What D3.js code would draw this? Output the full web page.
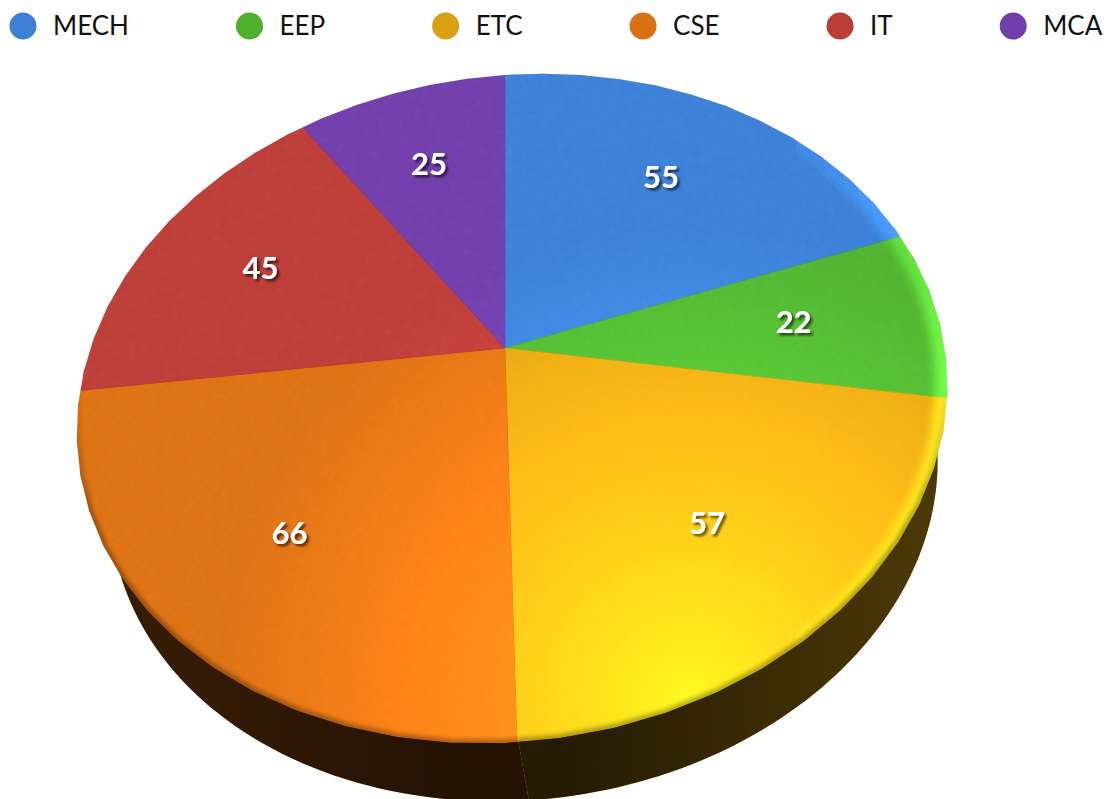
<!DOCTYPE html>
<html>
<head>
<meta charset="utf-8">
<script src="https://cdnjs.cloudflare.com/ajax/libs/d3/7.8.5/d3.min.js"></script>
<style>
  html, body { margin: 0; padding: 0; background: #fff; overflow: hidden; }
  text { font-family: Lato, sans-serif; }
</style>
</head>
<body>
<div id="chart"></div>
<script>
var categories = ["MECH", "EEP", "ETC", "CSE", "IT", "MCA"];
var values = [55, 22, 57, 66, 45, 25];
var colors = ["#3c7fd3", "#4fb030", "#d9a013", "#d97014", "#ba3d38", "#6f3ea8"];

var width = 1115, height = 799;

var svg = d3.select("#chart").append("svg")
  .attr("width", width)
  .attr("height", height)
  .style("display", "block");

var defs = svg.append("defs");

// tilted disc: unit circle (u right, v away from viewer) to screen
var project = function(r, angle) {
  var u = r * Math.sin(angle), v = r * Math.cos(angle);
  var w = 1 + 0.1826 * v - 0.016 * u;
  return [505 + 428 * u / w, 348 + (-322.9 * v - 24 * u) / w];
};

// the lower rim shrinks towards a vanishing point below the picture
var lower = function(p) {
  var m = 0.95;
  return [750 + m * (p[0] - 750), 1900 + m * (p[1] - 1900)];
};

var arcPoints = function(r, a0, a1) {
  return d3.range(0, 61).map(function(i) {
    return project(r, a0 + (a1 - a0) * i / 60);
  });
};

var line = d3.line();

var slices = d3.pie().sort(null)(values);

var mid = function(d) { return (d.startAngle + d.endAngle) / 2; };

var topPath = function(d) {
  return line([project(0, 0)].concat(arcPoints(1, d.startAngle, d.endAngle))) + "Z";
};

// starts a little inside the top face so no white shows along the rim
var sidePath = function(d) {
  var inner = arcPoints(0.98, d.startAngle, d.endAngle);
  var outer = arcPoints(1, d.startAngle, d.endAngle);
  return line(inner.concat(outer.reverse().map(lower))) + "Z";
};

var rimPath = line(arcPoints(1, 0, 2 * Math.PI)) + "Z";

// gradients and filters for the glossy look
defs.append("clipPath").attr("id", "disc").append("path").attr("d", rimPath);

var glow = defs.append("radialGradient").attr("id", "glow")
  .attr("gradientUnits", "userSpaceOnUse")
  .attr("cx", 690).attr("cy", 700).attr("r", 470);
glow.append("stop").attr("offset", 0).attr("stop-color", "#5c5c5c");
glow.append("stop").attr("offset", 0.55).attr("stop-color", "#2a2a2a");
glow.append("stop").attr("offset", 1).attr("stop-color", "#060606");

var edgeLight = defs.append("linearGradient").attr("id", "edgeLight")
  .attr("gradientUnits", "userSpaceOnUse")
  .attr("x1", 780).attr("x2", 950).attr("y1", 0).attr("y2", 0);
edgeLight.append("stop").attr("offset", 0).attr("stop-color", "#000");
edgeLight.append("stop").attr("offset", 1).attr("stop-color", "#444");

var edgeDark = defs.append("linearGradient").attr("id", "edgeDark")
  .attr("gradientUnits", "userSpaceOnUse")
  .attr("x1", 0).attr("x2", 0).attr("y1", 380).attr("y2", 520);
edgeDark.append("stop").attr("offset", 0).attr("stop-color", "#000").attr("stop-opacity", 0);
edgeDark.append("stop").attr("offset", 1).attr("stop-color", "#000").attr("stop-opacity", 0.3);

var sideShade = defs.append("linearGradient").attr("id", "sideShade")
  .attr("gradientUnits", "userSpaceOnUse")
  .attr("x1", 100).attr("x2", 950).attr("y1", 0).attr("y2", 0);
sideShade.append("stop").attr("offset", 0).attr("stop-color", "#000").attr("stop-opacity", 0.74);
sideShade.append("stop").attr("offset", 0.4).attr("stop-color", "#000").attr("stop-opacity", 0.83);
sideShade.append("stop").attr("offset", 0.55).attr("stop-color", "#000").attr("stop-opacity", 0.83);
sideShade.append("stop").attr("offset", 1).attr("stop-color", "#000").attr("stop-opacity", 0.64);

defs.append("filter").attr("id", "soft4").append("feGaussianBlur").attr("stdDeviation", 5);
defs.append("filter").attr("id", "soft2").append("feGaussianBlur").attr("stdDeviation", 2);

var grain = defs.append("filter").attr("id", "grain")
  .attr("x", 0).attr("y", 0).attr("width", 1).attr("height", 1);
grain.append("feTurbulence").attr("type", "fractalNoise")
  .attr("baseFrequency", 0.14).attr("numOctaves", 2).attr("seed", 4);
grain.append("feColorMatrix").attr("type", "matrix")
  .attr("values", "0 0 0 0 1  0 0 0 0 1  0 0 0 0 1  1.2 0 0 0 -0.52");

var labelShadow = defs.append("filter").attr("id", "labelShadow")
  .attr("x", "-20%").attr("y", "-20%").attr("width", "150%").attr("height", "150%");
labelShadow.append("feDropShadow")
  .attr("dx", 2.5).attr("dy", 2.5).attr("stdDeviation", 0.9)
  .attr("flood-color", "#000").attr("flood-opacity", 0.6);

// side wall
var side = svg.append("g");
side.selectAll("path.wall")
  .data(slices)
  .enter().append("path")
  .attr("class", "wall")
  .attr("d", sidePath)
  .attr("fill", function(d, i) { return colors[i]; });
side.selectAll("path.shade")
  .data(slices)
  .enter().append("path")
  .attr("class", "shade")
  .attr("d", sidePath)
  .attr("fill", "url(#sideShade)");

// top face
var face = svg.append("g").attr("clip-path", "url(#disc)").style("isolation", "isolate");

face.selectAll("path.slice")
  .data(slices)
  .enter().append("path")
  .attr("class", "slice")
  .attr("d", topPath)
  .attr("fill", function(d, i) { return colors[i]; })
  .attr("stroke", function(d, i) { return colors[i]; })
  .attr("stroke-width", 0.5);

face.append("path")
  .attr("d", rimPath)
  .attr("fill", "url(#glow)")
  .style("mix-blend-mode", "color-dodge");

face.append("path")
  .attr("d", rimPath)
  .attr("fill", "none")
  .attr("stroke", "url(#edgeLight)")
  .attr("stroke-width", 24)
  .attr("filter", "url(#soft4)")
  .style("mix-blend-mode", "color-dodge");

face.append("rect")
  .attr("x", 60).attr("y", 60)
  .attr("width", 900).attr("height", 700)
  .attr("filter", "url(#grain)")
  .attr("opacity", 0.06);

face.append("path")
  .attr("d", rimPath)
  .attr("fill", "none")
  .attr("stroke", "url(#edgeDark)")
  .attr("stroke-width", 8)
  .attr("filter", "url(#soft2)");

// value labels
svg.append("g").selectAll("text")
  .data(slices)
  .enter().append("text")
  .attr("transform", function(d) {
    return "translate(" + project(0.675, mid(d)) + ")";
  })
  .attr("text-anchor", "middle")
  .attr("dx", -2)
  .attr("dy", "0.3em")
  .attr("fill", "#fff")
  .attr("font-size", 31)
  .attr("font-weight", 700)
  .attr("filter", "url(#labelShadow)")
  .text(function(d) { return d.value; });

// legend, spaced by the measured text
var legend = svg.append("g");
var legendX = 23;
categories.forEach(function(name, i) {
  legend.append("circle")
    .attr("cx", legendX).attr("cy", 26).attr("r", 13.5)
    .attr("fill", colors[i]);
  var t = legend.append("text")
    .attr("x", legendX + 30).attr("y", 26)
    .attr("dy", "0.36em")
    .attr("font-size", 26)
    .attr("fill", "#111")
    .text(name);
  legendX += t.node().getComputedTextLength() + 150.5;
});
</script>
</body>
</html>
